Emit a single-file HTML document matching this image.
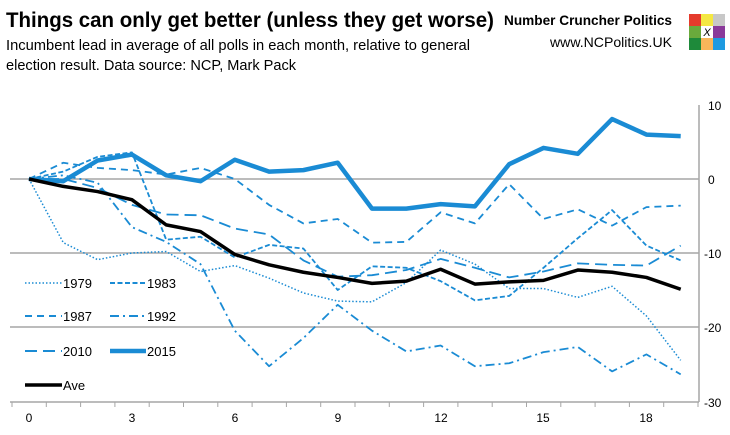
<!DOCTYPE html>
<html><head><style>
body{margin:0;background:#fff;width:730px;height:430px;overflow:hidden;font-family:"Liberation Sans",sans-serif}
</style></head><body>
<svg width="730" height="430" xmlns="http://www.w3.org/2000/svg" font-family="Liberation Sans, sans-serif">
<text x="6" y="27" font-size="21" font-weight="bold" fill="#000" textLength="488" lengthAdjust="spacingAndGlyphs">Things can only get better (unless they get worse)</text>
<text x="6" y="50" font-size="14.5" fill="#000" textLength="464" lengthAdjust="spacingAndGlyphs">Incumbent lead in average of all polls in each month, relative to general</text>
<text x="6" y="70" font-size="14.5" fill="#000" textLength="290" lengthAdjust="spacingAndGlyphs">election result. Data source: NCP, Mark Pack</text>
<text x="672" y="25" font-size="14" font-weight="bold" text-anchor="end" textLength="168" lengthAdjust="spacingAndGlyphs">Number Cruncher Politics</text>
<text x="672" y="47" font-size="14" text-anchor="end" textLength="122" lengthAdjust="spacingAndGlyphs">www.NCPolitics.UK</text>
<g>
<rect x="689" y="14" width="12" height="12" fill="#e53b2c"/><rect x="701" y="14" width="12" height="12" fill="#f4e842"/><rect x="713" y="14" width="12" height="12" fill="#c8c8c8"/>
<rect x="689" y="26" width="12" height="12" fill="#6aaa3c"/><rect x="701" y="26" width="12" height="12" fill="#fff"/><rect x="713" y="26" width="12" height="12" fill="#8a3a9a"/>
<rect x="689" y="38" width="12" height="12" fill="#1e8a3a"/><rect x="701" y="38" width="12" height="12" fill="#f8b65a"/><rect x="713" y="38" width="12" height="12" fill="#1e9ae0"/>
<text x="707" y="36" font-size="11" font-style="italic" text-anchor="middle">X</text>
</g>
<g stroke="#a6a6a6" stroke-width="1.5">
<line x1="10" y1="179" x2="699" y2="179"/><line x1="10" y1="253" x2="699" y2="253"/><line x1="10" y1="327" x2="699" y2="327"/>
<line x1="10" y1="402" x2="699" y2="402"/><line x1="699" y1="105" x2="699" y2="402"/>
</g>
<g stroke="#a6a6a6" stroke-width="1" id="ticks"></g>
<g font-size="12" fill="#000">
<text x="708" y="110">10</text><text x="708" y="184">0</text><text x="704" y="258">-10</text><text x="704" y="332">-20</text><text x="704" y="407">-30</text>
<text x="29" y="422" text-anchor="middle">0</text><text x="132" y="422" text-anchor="middle">3</text><text x="235" y="422" text-anchor="middle">6</text><text x="338" y="422" text-anchor="middle">9</text><text x="441" y="422" text-anchor="middle">12</text><text x="543" y="422" text-anchor="middle">15</text><text x="646" y="422" text-anchor="middle">18</text>
</g>
<g id="series" fill="none" stroke="#1a8bd4"></g>
<g font-size="13" fill="#000">
<line x1="25" y1="283" x2="62" y2="283" stroke="#1a8bd4" stroke-width="1.5" stroke-dasharray="1.5,2"/><text x="63" y="288">1979</text>
<line x1="110" y1="283" x2="146" y2="283" stroke="#1a8bd4" stroke-width="2" stroke-dasharray="5,2.5"/><text x="147" y="288">1983</text>
<line x1="25" y1="316" x2="62" y2="316" stroke="#1a8bd4" stroke-width="2" stroke-dasharray="7,5"/><text x="63" y="321">1987</text>
<line x1="110" y1="316" x2="146" y2="316" stroke="#1a8bd4" stroke-width="2" stroke-dasharray="9,4,2,4"/><text x="147" y="321">1992</text>
<line x1="25" y1="351" x2="62" y2="351" stroke="#1a8bd4" stroke-width="2" stroke-dasharray="12,6"/><text x="63" y="356">2010</text>
<line x1="110" y1="351" x2="146" y2="351" stroke="#1a8bd4" stroke-width="4.5"/><text x="147" y="356">2015</text>
<line x1="25" y1="385" x2="62" y2="385" stroke="#000" stroke-width="3.5"/><text x="63" y="390">Ave</text>
</g>
</svg>
<script>
const X=i=>29+i*34.3, Y=v=>179-v*7.4;
const ns="http://www.w3.org/2000/svg";
const t=document.getElementById('ticks');
for(let i=0;i<=20;i++){const l=document.createElementNS(ns,'line');const x=12+i*34.3;l.setAttribute('x1',x);l.setAttribute('x2',x);l.setAttribute('y1',402);l.setAttribute('y2',407);t.appendChild(l);}
const S=[
[[0,-8.6,-10.9,-10,-9.8,-12.5,-11.7,-13.4,-15.4,-16.5,-16.6,-14,-9.6,-11.5,-14.8,-14.8,-16,-14.5,-18.5,-24.5],"#1a8bd4",1.5,"1.5,2"],
[[0,1,3,3.6,-8.2,-7.8,-10.6,-8.9,-9.4,-15,-11.8,-12,-13.8,-16.4,-15.8,-12,-8,-4.2,-9,-11],"#1a8bd4",1.8,"5,2.5"],
[[0,2.2,1.5,1.2,0.6,1.5,0,-3.5,-6,-5.4,-8.6,-8.5,-4.5,-6,-0.7,-5.4,-4.1,-6.3,-3.8,-3.6],"#1a8bd4",1.8,"7,5"],
[[0,0.5,-0.5,-6.5,-8.5,-11.5,-20.5,-25.3,-21.5,-17,-20.5,-23.3,-22.5,-25.3,-24.9,-23.4,-22.7,-26,-23.7,-26.4],"#1a8bd4",1.8,"9,4,2,4"],
[[0,0,-1.2,-3.5,-4.8,-4.9,-6.7,-7.5,-11,-13.2,-13,-12.3,-10.8,-12,-13.3,-12.5,-11.4,-11.6,-11.7,-9],"#1a8bd4",1.8,"12,6"],
[[0,-0.3,2.5,3.3,0.5,-0.3,2.6,1,1.2,2.2,-4,-4,-3.4,-3.7,2,4.2,3.4,8.1,6,5.8],"#1a8bd4",4.5,""],
[[0,-1,-1.7,-2.8,-6.2,-7.1,-10.2,-11.6,-12.6,-13.3,-14.1,-13.8,-12.2,-14.2,-13.9,-13.7,-12.3,-12.6,-13.3,-14.9],"#000",3.5,""]];
const g=document.getElementById('series');
S.forEach(([d,c,w,da])=>{const p=document.createElementNS(ns,'polyline');p.setAttribute('points',d.map((v,i)=>X(i)+','+Y(v)).join(' '));p.setAttribute('stroke',c);p.setAttribute('stroke-width',w);if(da)p.setAttribute('stroke-dasharray',da);p.setAttribute('stroke-linejoin','round');g.appendChild(p);});
</script>
</body></html>
